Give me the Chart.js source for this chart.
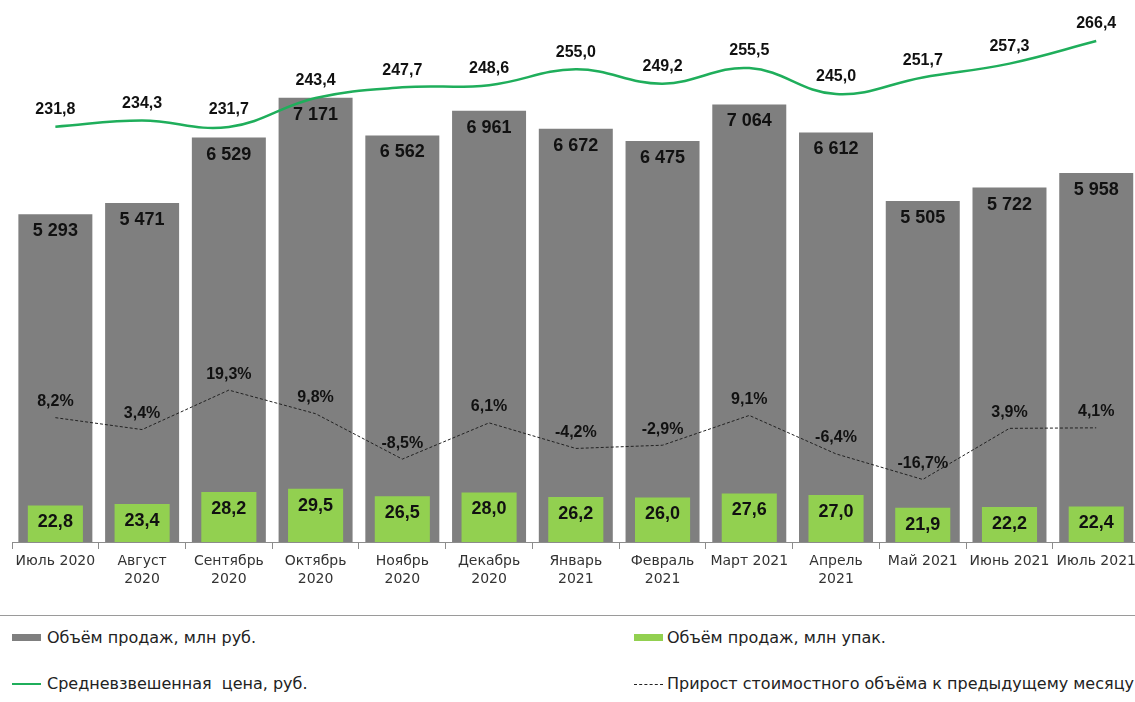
<!DOCTYPE html>
<html>
<head>
<meta charset="utf-8">
<script src="https://cdn.jsdelivr.net/npm/chart.js@4.4.1/dist/chart.umd.min.js"></script>
<style>
  html, body { margin: 0; padding: 0; background: #fff; overflow: hidden; }
  #wrap { position: relative; width: 1135px; height: 702px; overflow: hidden; }
  #chart { position: absolute; left: 0; top: 0; }
  .sep { position: absolute; left: 0; top: 615px; width: 1135px; height: 1px; background: #9a9a9a; }
  .item { position: absolute; font-family: "DejaVu Sans", Verdana, sans-serif; font-size: 16px; color: #222; line-height: 18px; white-space: nowrap; }
  .sw { position: absolute; }
</style>
</head>
<body>
<div id="wrap">
  <canvas id="chart" width="1140" height="600" style="width:1140px;height:600px"></canvas>
  <div class="sep"></div>
  <div class="sw" style="left:12px;top:634px;width:29px;height:7px;background:#7f7f7f"></div>
  <div class="item" style="left:47px;top:629px">Объём продаж, млн руб.</div>
  <div class="sw" style="left:634px;top:634px;width:29px;height:7px;background:#92d050"></div>
  <div class="item" style="left:667px;top:629px">Объём продаж, млн упак.</div>
  <div class="sw" style="left:12px;top:683px;width:29px;height:2px;background:#1fae5b"></div>
  <div class="item" style="left:47px;top:675px">Средневзвешенная&nbsp; цена, руб.</div>
  <div class="sw" style="left:634px;top:684px;width:29px;height:0;border-top:1px dashed #222"></div>
  <div class="item" style="left:667px;top:675px">Прирост стоимостного объёма к предыдущему месяцу</div>
</div>
<script>
// months, two-line where the original wraps
var months = [
    "Июль 2020", ["Август", "2020"], ["Сентябрь", "2020"], ["Октябрь", "2020"],
    ["Ноябрь", "2020"], ["Декабрь", "2020"], ["Январь", "2021"], ["Февраль", "2021"],
    "Март 2021", ["Апрель", "2021"], "Май 2021", "Июнь 2021", "Июль 2021"
];
var salesRub = [5293, 5471, 6529, 7171, 6562, 6961, 6672, 6475, 7064, 6612, 5505, 5722, 5958];
var salesPacks = [22.8, 23.4, 28.2, 29.5, 26.5, 28.0, 26.2, 26.0, 27.6, 27.0, 21.9, 22.2, 22.4];
var avgPrice = [231.8, 234.3, 231.7, 243.4, 247.7, 248.6, 255.0, 249.2, 255.5, 245.0, 251.7, 257.3, 266.4];
var growthPct = [8.2, 3.4, 19.3, 9.8, -8.5, 6.1, -4.2, -2.9, 9.1, -6.4, -16.7, 3.9, 4.1];

function fmtThousands(v) {
    return String(v).replace(/\B(?=(\d{3})+(?!\d))/g, " ");
}
function fmtComma(v) {
    return v.toFixed(1).replace(".", ",");
}

// draws the value labels like the excel original
var valueLabels = {
    id: "valueLabels",
    afterDatasetsDraw: function(chart) {
        var ctx = chart.ctx;
        ctx.save();
        ctx.textAlign = "center";
        ctx.textBaseline = "middle";
        ctx.fillStyle = "#111";
        chart.data.datasets.forEach(function(ds, i) {
            var meta = chart.getDatasetMeta(i);
            meta.data.forEach(function(el, j) {
                var v = ds.data[j];
                var txt, y;
                if (ds.labelType === "rub") {
                    ctx.font = "bold 18px 'Liberation Sans', Arial, sans-serif";
                    txt = fmtThousands(v);
                    y = el.y + 17;
                } else if (ds.labelType === "packs") {
                    ctx.font = "bold 18px 'Liberation Sans', Arial, sans-serif";
                    txt = fmtComma(v);
                    y = el.y + 17;
                } else if (ds.labelType === "price") {
                    ctx.font = "bold 16px 'Liberation Sans', Arial, sans-serif";
                    txt = fmtComma(v);
                    y = el.y - 17;
                } else {
                    ctx.font = "bold 16px 'Liberation Sans', Arial, sans-serif";
                    txt = fmtComma(v) + "%";
                    y = el.y - 16;
                }
                ctx.fillText(txt, el.x, y);
            });
        });
        ctx.restore();
    }
};

var ctx = document.getElementById("chart");

new Chart(ctx, {
    type: "bar",
    data: {
        labels: months,
        datasets: [{
            type: "line",
            label: "Средневзвешенная цена, руб.",
            data: avgPrice,
            yAxisID: "yPrice",
            borderColor: "#1fae5b",
            borderWidth: 2.5,
            pointRadius: 0,
            tension: 0.4,
            fill: false,
            labelType: "price",
            order: 0
        }, {
            type: "line",
            label: "Прирост стоимостного объёма к предыдущему месяцу",
            data: growthPct,
            yAxisID: "yPct",
            borderColor: "#222",
            borderWidth: 1,
            borderDash: [3, 2],
            pointRadius: 0,
            tension: 0,
            fill: false,
            labelType: "pct",
            order: 1
        }, {
            label: "Объём продаж, млн упак.",
            data: salesPacks,
            yAxisID: "yPacks",
            backgroundColor: "#92d050",
            barPercentage: 0.635,
            categoryPercentage: 1,
            grouped: false,
            labelType: "packs",
            order: 2
        }, {
            label: "Объём продаж, млн руб.",
            data: salesRub,
            yAxisID: "yRub",
            backgroundColor: "#7f7f7f",
            barPercentage: 0.853,
            categoryPercentage: 1,
            grouped: false,
            labelType: "rub",
            order: 3
        }]
    },
    options: {
        responsive: false,
        animation: false,
        layout: { padding: { left: 12, right: 0, top: 0, bottom: 0 } },
        plugins: {
            legend: { display: false },
            tooltip: { enabled: false }
        },
        scales: {
            x: {
                offset: true,
                grid: {
                    offset: true,
                    drawOnChartArea: false,
                    drawTicks: true,
                    tickLength: 7,
                    color: "#8c8c8c"
                },
                border: { color: "#8c8c8c" },
                ticks: {
                    color: "#333",
                    font: { family: "'DejaVu Sans', Verdana, sans-serif", size: 14, lineHeight: 1.25 },
                    maxRotation: 0,
                    autoSkip: false,
                    padding: 4
                },
                afterFit: function(s) { s.height = 58; }
            },
            yRub: { display: false, min: 0, max: 8750 },
            yPacks: { display: false, min: 8.2, max: 225 },
            yPrice: { display: false, min: 64, max: 283 },
            yPct: { display: false, min: -41.9, max: 176.5 }
        }
    },
    plugins: [valueLabels]
});
</script>
</body>
</html>
